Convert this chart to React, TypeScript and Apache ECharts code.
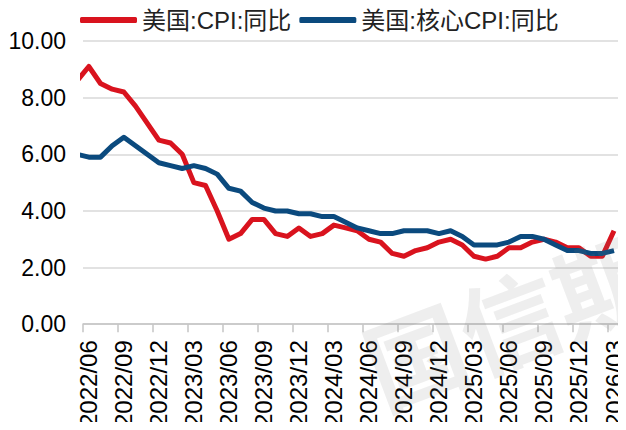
import React, { useEffect, useRef } from "react";
import * as echarts from "echarts";

const months: string[] = [
  "2022/05", "2022/06", "2022/07", "2022/08", "2022/09", "2022/10", "2022/11", "2022/12",
  "2023/01", "2023/02", "2023/03", "2023/04", "2023/05", "2023/06", "2023/07", "2023/08",
  "2023/09", "2023/10", "2023/11", "2023/12", "2024/01", "2024/02", "2024/03", "2024/04",
  "2024/05", "2024/06", "2024/07", "2024/08", "2024/09", "2024/10", "2024/11", "2024/12",
  "2025/01", "2025/02", "2025/03", "2025/04", "2025/05", "2025/06", "2025/07", "2025/08",
  "2025/09", "2025/10", "2025/11", "2025/12", "2026/01", "2026/02", "2026/03",
];

const cpi: number[] = [
  8.6, 9.1, 8.5, 8.3, 8.2, 7.7, 7.1, 6.5,
  6.4, 6.0, 5.0, 4.9, 4.0, 3.0, 3.2, 3.7,
  3.7, 3.2, 3.1, 3.4, 3.1, 3.2, 3.5, 3.4,
  3.3, 3.0, 2.9, 2.5, 2.4, 2.6, 2.7, 2.9,
  3.0, 2.8, 2.4, 2.3, 2.4, 2.7, 2.7, 2.9,
  3.0, 2.9, 2.7, 2.7, 2.4, 2.4, 3.3,
];

const coreCpi: number[] = [
  6.0, 5.9, 5.9, 6.3, 6.6, 6.3, 6.0, 5.7,
  5.6, 5.5, 5.6, 5.5, 5.3, 4.8, 4.7, 4.3,
  4.1, 4.0, 4.0, 3.9, 3.9, 3.8, 3.8, 3.6,
  3.4, 3.3, 3.2, 3.2, 3.3, 3.3, 3.3, 3.2,
  3.3, 3.1, 2.8, 2.8, 2.8, 2.9, 3.1, 3.1,
  3.0, 2.8, 2.6, 2.6, 2.5, 2.5, 2.6,
];

const seriesNames: string[] = ["美国:CPI:同比", "美国:核心CPI:同比"];
const labelMonths: string[] = [
  "2022/06", "2022/09", "2022/12", "2023/03", "2023/06", "2023/09", "2023/12", "2024/03",
  "2024/06", "2024/09", "2024/12", "2025/03", "2025/06", "2025/09", "2025/12", "2026/03",
];
const watermark = "国信期货";

const FONT = "'Liberation Sans', Arial, 'Noto Sans CJK SC', sans-serif";

export default function App() {
  const ref = useRef<HTMLDivElement>(null);
  useEffect(() => {
    if (!ref.current) return;
    const chart = echarts.init(ref.current, undefined, { renderer: "svg" });
    const labelIdx = labelMonths.map((m) => months.indexOf(m));
    const tickIdx = labelIdx.map((i) => i - 0.5);
    chart.setOption({
      animation: false,
      backgroundColor: "#ffffff",
      textStyle: { fontFamily: FONT },
      legend: {
        left: 80,
        top: 8,
        padding: 0,
        itemWidth: 57,
        itemHeight: 6,
        itemGap: 8,
        icon: "roundRect",
        textStyle: { fontSize: 24, color: "#222", fontFamily: FONT },
        data: seriesNames,
      },
      grid: { left: 83, right: 4, top: 41, bottom: 105 },
      xAxis: {
        type: "value",
        min: 0.5,
        max: months.length - 0.5,
        splitLine: { show: false },
        axisLine: { show: true, lineStyle: { color: "#c4c4c4", width: 1.5 } },
        axisTick: {
          show: true,
          length: 8,
          customValues: tickIdx,
          lineStyle: { color: "#c4c4c4", width: 1.5 },
        },
        axisLabel: {
          rotate: 90,
          fontSize: 24,
          color: "#000",
          margin: 16,
          customValues: labelIdx,
          formatter: (v: number) => months[Math.round(v)] ?? "",
          fontFamily: FONT,
        },
      },
      yAxis: {
        type: "value",
        min: 0,
        max: 10,
        interval: 2,
        axisLine: { show: false },
        axisTick: { show: false },
        axisLabel: {
          fontSize: 23,
          color: "#000",
          margin: 17,
          formatter: (v: number) => v.toFixed(2),
          fontFamily: FONT,
        },
        splitLine: { lineStyle: { color: "#d9d9d9", width: 1.5 } },
      },
      series: [
        {
          name: seriesNames[0],
          type: "line",
          showSymbol: false,
          clip: true,
          color: "#D9131E",
          lineStyle: { width: 5, color: "#D9131E", join: "round" },
          data: cpi.map((v, i) => [i, v]),
          z: 3,
        },
        {
          name: seriesNames[1],
          type: "line",
          showSymbol: false,
          clip: true,
          color: "#0B4A7E",
          lineStyle: { width: 5, color: "#0B4A7E", join: "round" },
          data: coreCpi.map((v, i) => [i, v]),
          z: 4,
        },
      ],
      graphic: [
        {
          type: "text",
          x: 555,
          y: 300,
          rotation: 0.36,
          z: 100,
          silent: true,
          style: {
            text: watermark,
            fontSize: 100,
            fontWeight: "bold",
            fontFamily: "'Noto Sans CJK SC', sans-serif",
            fill: "rgba(120,120,120,0.13)",
            textAlign: "center",
            textVerticalAlign: "middle",
          },
        },
      ],
    });
    return () => chart.dispose();
  }, []);
  return <div ref={ref} style={{ width: 626, height: 430, margin: -8 }} />;
}
